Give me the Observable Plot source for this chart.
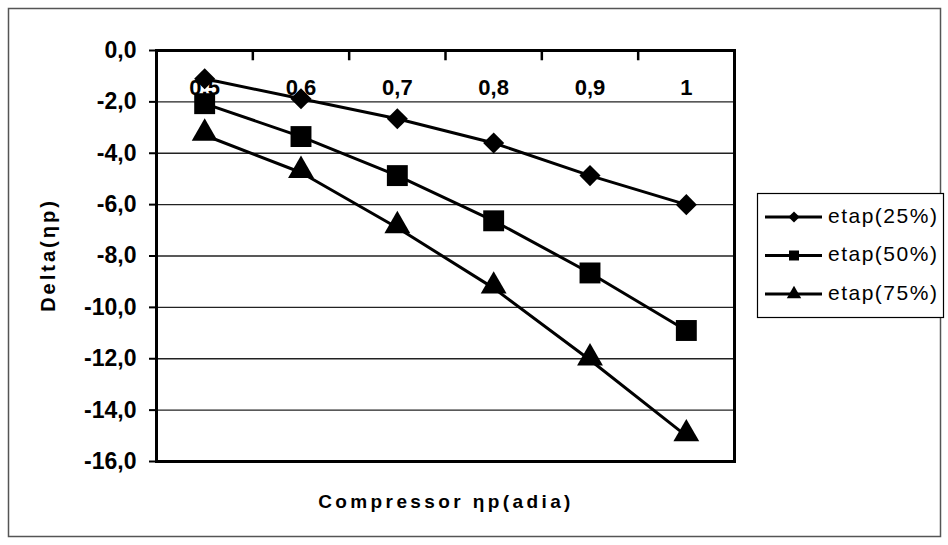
<!DOCTYPE html>
<html><head><meta charset="utf-8">
<script src="https://cdn.jsdelivr.net/npm/d3@7"></script>
<script src="https://cdn.jsdelivr.net/npm/@observablehq/plot@0.6"></script>
<style>
body{margin:0;background:#fff;}
#chart{position:relative;width:948px;height:545px;}
</style>
</head><body><div id="chart"></div>
<script>
// ---- data ----
const categories = [0.5, 0.6, 0.7, 0.8, 0.9, 1.0];
const categoryLabels = ["0,5", "0,6", "0,7", "0,8", "0,9", "1"];
const seriesNames = ["etap(25%)", "etap(50%)", "etap(75%)"];
const etap25 = [-1.1, -1.88, -2.66, -3.6, -4.87, -6.0];
const etap50 = [-2.07, -3.35, -4.87, -6.63, -8.66, -10.9];
const etap75 = [-3.3, -4.75, -6.9, -9.25, -12.05, -15.0];
const yTicks = [0, -2, -4, -6, -8, -10, -12, -14, -16];
const xTitle = "Compressor ηp(adia)";
const yTitle = "Delta(ηp)";

// ---- styles ----
const symbols = ["diamond2", "square", "triangle"];
const radii = [9.5, 11.8, 9.6];
const font = "'Liberation Sans', Arial, sans-serif";

const rows = [];
[etap25, etap50, etap75].forEach((vals, s) =>
  vals.forEach((v, i) => rows.push({series: seriesNames[s], x: categories[i], y: v})));
const boundaries = categories.slice(0, -1).map((c, i) => (c + categories[i + 1]) / 2);
const fmt = d => d.toFixed(1).replace(".", ",");

const chart = Plot.plot({
  width: 948, height: 545,
  marginLeft: 156, marginRight: 214, marginTop: 50, marginBottom: 84,
  style: {fontFamily: font, background: "#fff", color: "#000"},
  x: {domain: [0.45, 1.05], axis: null},
  y: {domain: [-16, 0], axis: null},
  marks: [
    Plot.gridY(yTicks.filter(t => t !== 0 && t !== -16), {stroke: "#222", strokeOpacity: 1, strokeWidth: 1.3}),
    Plot.axisY(yTicks, {label: null, tickSize: 7, tickPadding: 13, strokeWidth: 2, tickFormat: fmt, fontSize: 23, fontWeight: "bold"}),
    Plot.ruleX(boundaries, {x: d => d, y1: 0, y2: -0.4, stroke: "#000", strokeWidth: 2.5}),
    Plot.text(categories, {x: d => d, text: (d, i) => categoryLabels[i], frameAnchor: "top", dy: 29, fontSize: 22, fontWeight: "bold"}),
    Plot.frame({stroke: "#000", strokeWidth: 3}),
    Plot.line(rows, {x: "x", y: "y", z: "series", stroke: "#000", strokeWidth: 3}),
    ...seriesNames.map((name, s) =>
      Plot.dot(rows.filter(d => d.series === name), {
        x: "x", y: "y", symbol: symbols[s], r: radii[s], fill: "#000", stroke: "none", dy: s === 2 ? -2 : 0
      }))
  ]
});
document.getElementById("chart").appendChild(chart);

// ---- annotations: outer border, titles, legend ----
const svg = d3.select(chart);
svg.insert("rect", ":first-child")
  .attr("x", 8.5).attr("y", 8.5).attr("width", 932).attr("height", 528)
  .attr("fill", "#fff").attr("stroke", "#555").attr("stroke-width", 1.5);

svg.append("text")
  .attr("x", 446).attr("y", 503)
  .attr("text-anchor", "middle").attr("dominant-baseline", "middle")
  .attr("font-family", font).attr("font-size", 19).attr("font-weight", "bold")
  .attr("letter-spacing", 3.4)
  .text(xTitle);

svg.append("text")
  .attr("transform", "translate(50,255) rotate(-90)")
  .attr("text-anchor", "middle").attr("dominant-baseline", "middle")
  .attr("font-family", font).attr("font-size", 20).attr("font-weight", "bold")
  .attr("letter-spacing", 3)
  .text(yTitle);

const lg = svg.append("g");
lg.append("rect").attr("x", 757.5).attr("y", 193.5).attr("width", 186).attr("height", 124)
  .attr("fill", "#fff").attr("stroke", "#000").attr("stroke-width", 1.2);
const legendSym = [d3.symbolDiamond2, d3.symbolSquare, d3.symbolTriangle];
const legendSize = [80, 100, 90];
seriesNames.forEach((name, s) => {
  const y = 217 + s * 38.5;
  lg.append("line").attr("x1", 765).attr("x2", 822).attr("y1", y).attr("y2", y)
    .attr("stroke", "#000").attr("stroke-width", 3);
  lg.append("path").attr("d", d3.symbol(legendSym[s], legendSize[s])())
    .attr("transform", `translate(794,${y})`).attr("fill", "#000");
  lg.append("text").attr("x", 828).attr("y", y)
    .attr("text-anchor", "start").attr("dominant-baseline", "middle")
    .attr("font-family", font).attr("font-size", 21)
    .attr("letter-spacing", 1.5)
    .text(name);
});
</script>
</body></html>
